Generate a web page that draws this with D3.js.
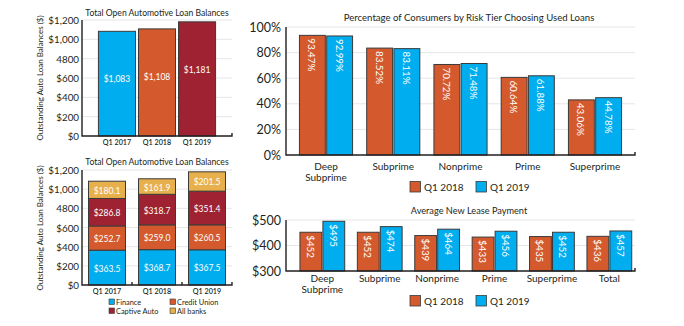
<!DOCTYPE html>
<html>
<head>
<meta charset="utf-8">
<script src="https://cdn.jsdelivr.net/npm/d3@7"></script>
<style>
  body { margin: 0; background: #fff; }
  svg { display: block; font-family: Lato, "Open Sans", sans-serif; }
  .grid line { stroke: #e6e6e6; stroke-width: 1; }
  .axisline { stroke: #231f20; stroke-width: 1.4; fill: none; }
  .bar { stroke: #3a3a3a; stroke-width: 1; }
  .ttl { fill: #231f20; }
</style>
</head>
<body>
<script>
// loan balances, $B
var quarters = ["Q1 2017", "Q1 2018", "Q1 2019"];
var totalBalances = [1083, 1108, 1181];
var balanceTicks = [0, 200, 400, 600, 800, 1000, 1200];
var balanceTickLabels = ["$0", "$200", "$400", "$600", "4800", "$1,000", "$1,200"];

// lender mix per quarter
var lenders = ["Finance", "Credit Union", "Captive Auto", "All banks"];
var finance = [363.5, 368.7, 367.5];
var creditUnion = [252.7, 259.0, 260.5];
var captiveAuto = [286.8, 318.7, 351.4];
var allBanks = [180.1, 161.9, 201.5];

// used loan share by risk tier, %
var tiers = ["Deep Subprime", "Subprime", "Nonprime", "Prime", "Superprime"];
var usedQ118 = [93.47, 83.52, 70.72, 60.64, 43.06];
var usedQ119 = [92.99, 83.11, 71.48, 61.88, 44.78];
var pctTicks = [0, 20, 40, 60, 80, 100];

// average new lease payment, $
var leaseTiers = ["Deep Subprime", "Subprime", "Nonprime", "Prime", "Superprime", "Total"];
var leaseQ118 = [452, 452, 439, 433, 435, 436];
var leaseQ119 = [495, 474, 464, 456, 452, 457];
var leaseTicks = [300, 400, 500];

var series = ["Q1 2018", "Q1 2019"];

var blue = "#00aeef", orange = "#d45a2e", red = "#9e2232", gold = "#e8b04c";

var svg = d3.select("body").append("svg")
    .attr("width", 684)
    .attr("height", 326);

// grid + tick labels
function frame(y, ticks, labels, x0, x1, fontSize, gap){
    svg.append("g").attr("class", "grid")
        .selectAll("line").data(ticks.slice(1)).enter().append("line")
        .attr("x1", x0).attr("x2", x1)
        .attr("y1", function(d){ return y(d); })
        .attr("y2", function(d){ return y(d); });

    svg.append("g").selectAll("text").data(ticks).enter().append("text")
        .attr("x", x0 - gap)
        .attr("y", function(d){ return y(d); })
        .attr("text-anchor", "end")
        .attr("dominant-baseline", "central")
        .attr("font-size", fontSize)
        .attr("fill", "#231f20")
        .text(function(d, i){ return labels[i]; });
}

// left axis line + bottom axis line with an end tick
function axisLines(y, ticks, x0, x1, extraTicks){
    var yb = y(ticks[0]), yt = y(ticks[ticks.length - 1]);
    svg.append("path").attr("class", "axisline")
        .attr("d", "M" + x0 + "," + yt + "V" + yb + "H" + x1 + "V" + (yb - 3));
    (extraTicks || []).forEach(function(t){
        svg.append("line").attr("class", "axisline")
            .attr("x1", t).attr("x2", t).attr("y1", yb).attr("y2", yb - 3);
    });
}

function title(txt, x, y, size){
    svg.append("text").attr("class", "ttl")
        .attr("x", x).attr("y", y)
        .attr("text-anchor", "middle")
        .attr("font-size", size)
        .text(txt);
}

function yTitle(txt, x, y){
    svg.append("text")
        .attr("transform", "translate(" + x + "," + y + ") rotate(-90)")
        .attr("text-anchor", "middle")
        .attr("font-size", 8)
        .attr("fill", "#231f20")
        .text(txt);
}

// ---- total balances ----
(function(){
    var x = d3.scaleBand().domain(quarters).range([82, 232]).paddingInner(0.075).paddingOuter(0.41);
    var y = d3.scaleLinear().domain([0, 1200]).range([136, 20]);
    var colors = [blue, orange, red];

    title("Total Open Automotive Loan Balances", 157, 16, 8.6);
    frame(y, balanceTicks, balanceTickLabels, 82, 232, 9.8, 3);
    yTitle("Outstanding Auto Loan Balances ($)", 43, 78);

    svg.append("g").selectAll("rect").data(totalBalances).enter().append("rect")
        .attr("class", "bar")
        .attr("x", function(d, i){ return x(quarters[i]); })
        .attr("y", function(d){ return y(d); })
        .attr("width", x.bandwidth())
        .attr("height", function(d){ return y(0) - y(d); })
        .attr("fill", function(d, i){ return colors[i]; });

    svg.append("g").selectAll("text").data(totalBalances).enter().append("text")
        .attr("x", function(d, i){ return x(quarters[i]) + x.bandwidth() / 2; })
        .attr("y", function(d){ return y(d) + 48; })
        .attr("text-anchor", "middle")
        .attr("dominant-baseline", "central")
        .attr("font-size", 8.5)
        .attr("fill", "#fff")
        .text(function(d){ return "$" + d3.format(",")(d); });

    axisLines(y, balanceTicks, 82, 232);

    svg.append("g").selectAll("text").data(quarters).enter().append("text")
        .attr("x", function(d){ return x(d) + x.bandwidth() / 2; })
        .attr("y", 145)
        .attr("text-anchor", "middle")
        .attr("font-size", 7.2)
        .attr("font-weight", 600)
        .attr("fill", "#231f20")
        .text(function(d){ return d; });
})();

// ---- balances by lender, stacked ----
(function(){
    var x = d3.scaleBand().domain(quarters).range([82, 232]).paddingInner(0.26).paddingOuter(0.13);
    var y = d3.scaleLinear().domain([0, 1200]).range([285, 170]);
    var colors = [blue, orange, red, gold];
    var rows = quarters.map(function(q, i){
        return { q: q, "Finance": finance[i], "Credit Union": creditUnion[i],
                 "Captive Auto": captiveAuto[i], "All banks": allBanks[i] };
    });
    var stack = d3.stack().keys(lenders)(rows);

    title("Total Open Automotive Loan Balances", 157, 165, 8.6);
    frame(y, balanceTicks, balanceTickLabels, 82, 232, 9.8, 3);
    yTitle("Outstanding Auto Loan Balances ($)", 43, 228);

    var layer = svg.append("g").selectAll("g").data(stack).enter().append("g")
        .attr("fill", function(d, i){ return colors[i]; });

    layer.selectAll("rect").data(function(d){ return d; }).enter().append("rect")
        .attr("class", "bar")
        .attr("x", function(d){ return x(d.data.q); })
        .attr("y", function(d){ return y(d[1]); })
        .attr("width", x.bandwidth())
        .attr("height", function(d){ return y(d[0]) - y(d[1]); });

    layer.selectAll("text").data(function(d){ return d; }).enter().append("text")
        .attr("x", function(d){ return x(d.data.q) + x.bandwidth() / 2; })
        .attr("y", function(d){ return (y(d[0]) + y(d[1])) / 2 + 1; })
        .attr("text-anchor", "middle")
        .attr("dominant-baseline", "central")
        .attr("font-size", 8.5)
        .attr("fill", "#fff")
        .text(function(d){ return "$" + d3.format(".1f")(d[1] - d[0]); });

    axisLines(y, balanceTicks, 82, 232, [132, 182]);

    svg.append("g").selectAll("text").data(quarters).enter().append("text")
        .attr("x", function(d){ return x(d) + x.bandwidth() / 2; })
        .attr("y", 294)
        .attr("text-anchor", "middle")
        .attr("font-size", 7.2)
        .attr("font-weight", 600)
        .attr("fill", "#231f20")
        .text(function(d){ return d; });

    var leg = svg.append("g").selectAll("g").data(lenders).enter().append("g")
        .attr("transform", function(d, i){
            return "translate(" + (i % 2 ? 170 : 109) + "," + (i < 2 ? 302 : 311) + ")";
        });
    leg.append("rect")
        .attr("x", 0).attr("y", -3).attr("width", 5.5).attr("height", 5.5)
        .attr("fill", function(d, i){ return colors[i]; })
        .attr("stroke", "#3a3a3a").attr("stroke-width", 0.6);
    leg.append("text")
        .attr("x", 7).attr("y", 0)
        .attr("dominant-baseline", "central")
        .attr("font-size", 7.4)
        .attr("fill", "#231f20")
        .text(function(d){ return d; });
})();

// grouped bars with rotated value labels
function grouped(cfg){
    var x = d3.scaleBand().domain(cfg.cats).range([286, 635])
        .paddingInner(cfg.pi).paddingOuter(cfg.po).align(cfg.align);
    var x1 = d3.scaleBand().domain(series).range([0, x.bandwidth()]).paddingInner(0.05);
    var y = d3.scaleLinear().domain(cfg.domain).range(cfg.yr);
    var colors = [orange, blue];

    title(cfg.title, 469, cfg.titleY, cfg.titleSize);
    frame(y, cfg.ticks, cfg.ticks.map(cfg.tickFmt), 286, 635, 12.5, 5);

    var data = [];
    cfg.cats.forEach(function(c, i){
        data.push({ c: c, s: series[0], v: cfg.a[i], k: 0 });
        data.push({ c: c, s: series[1], v: cfg.b[i], k: 1 });
    });

    svg.append("g").selectAll("rect").data(data).enter().append("rect")
        .attr("class", "bar")
        .attr("x", function(d){ return x(d.c) + x1(d.s); })
        .attr("y", function(d){ return y(d.v); })
        .attr("width", x1.bandwidth())
        .attr("height", function(d){ return y(cfg.domain[0]) - y(d.v); })
        .attr("fill", function(d){ return colors[d.k]; });

    svg.append("g").selectAll("text").data(data).enter().append("text")
        .attr("transform", function(d){
            return "translate(" + (x(d.c) + x1(d.s) + x1.bandwidth() / 2) + "," + (y(d.v) + 3) + ") rotate(90)";
        })
        .attr("dominant-baseline", "central")
        .attr("font-size", cfg.valSize)
        .attr("fill", "#fff")
        .text(function(d){ return cfg.valFmt(d.v); });

    axisLines(y, cfg.ticks, 286, 635);

    var lab = svg.append("g").selectAll("text").data(cfg.cats).enter().append("text")
        .attr("x", function(d){ return x(d) + x.bandwidth() / 2; })
        .attr("y", cfg.labY)
        .attr("text-anchor", "middle")
        .attr("font-size", 10)
        .attr("fill", "#231f20");
    lab.each(function(d){
        var words = d === "Deep Subprime" ? ["Deep", "Subprime"] : [d];
        var t = d3.select(this);
        words.forEach(function(w, j){
            t.append("tspan")
                .attr("x", x(d) + x.bandwidth() / 2)
                .attr("dy", j ? 10.5 : 0)
                .text(w);
        });
    });

    var leg = svg.append("g").selectAll("g").data(series).enter().append("g")
        .attr("transform", function(d, i){ return "translate(" + (i ? 476 : 410) + "," + cfg.legY + ")"; });
    leg.append("rect")
        .attr("x", 0).attr("y", -5.5).attr("width", 10.5).attr("height", 10.5)
        .attr("fill", function(d, i){ return colors[i]; })
        .attr("stroke", "#3a3a3a").attr("stroke-width", 0.8);
    leg.append("text")
        .attr("x", 14).attr("y", 0)
        .attr("dominant-baseline", "central")
        .attr("font-size", 10)
        .attr("fill", "#231f20")
        .text(function(d){ return d; });
}

grouped({
    cats: tiers, a: usedQ118, b: usedQ119,
    domain: [0, 100], yr: [155, 27], ticks: pctTicks,
    tickFmt: function(d){ return d + "%"; },
    valFmt: function(v){ return d3.format(".2f")(v) + "%"; },
    valSize: 9.8,
    pi: 0.21, po: 0.2, align: 0.5,
    title: "Percentage of Consumers by Risk Tier Choosing Used Loans", titleY: 21, titleSize: 9.6,
    labY: 170, legY: 187
});

grouped({
    cats: leaseTiers, a: leaseQ118, b: leaseQ119,
    domain: [300, 500], yr: [271, 220], ticks: leaseTicks,
    tickFmt: function(d){ return "$" + d; },
    valFmt: function(v){ return "$" + v; },
    valSize: 9.8,
    pi: 0.22, po: 0.15, align: 0.81,
    title: "Average New Lease Payment", titleY: 214, titleSize: 9.2,
    labY: 282, legY: 301
});
</script>
</body>
</html>
